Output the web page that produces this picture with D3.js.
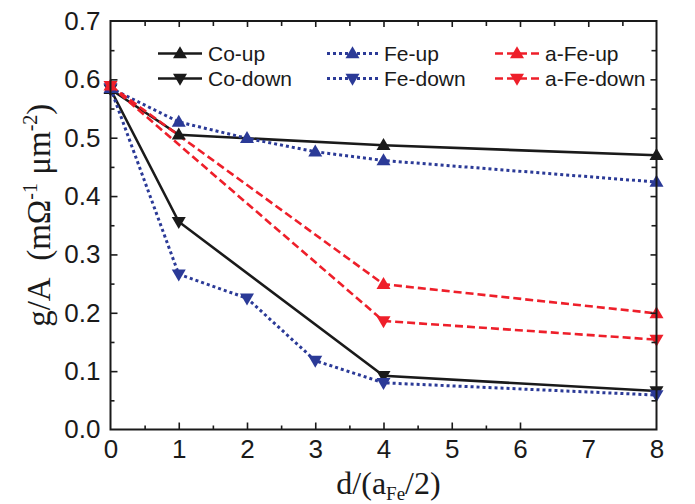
<!DOCTYPE html>
<html><head><meta charset="utf-8">
<script src="https://cdn.jsdelivr.net/npm/d3@7"></script>
<style>
html,body{margin:0;padding:0;background:#fff;}
svg{display:block;}
</style></head>
<body>
<svg id="chart" width="695" height="504"></svg>
<script>
// ---- data ----
const xTickLabels = [0,1,2,3,4,5,6,7,8];
const yTickLabels = [0.0,0.1,0.2,0.3,0.4,0.5,0.6,0.7];

const coX = [0,1,4,8];
const coUp = [0.583,0.505,0.487,0.470];
const coDown = [0.583,0.356,0.092,0.066];

const feX = [0,1,2,3,4,8];
const feUp = [0.585,0.527,0.499,0.476,0.461,0.424];
const feDown = [0.585,0.266,0.225,0.118,0.080,0.059];

const aFeX = [0,4,8];
const aFeUp = [0.589,0.249,0.199];
const aFeDown = [0.589,0.186,0.154];

const seriesNames = ["Co-up","Co-down","Fe-up","Fe-down","a-Fe-up","a-Fe-down"];

// ---- styles ----
const BLACK = "#1a1a1a", BLUE = "#2b3a97", RED = "#ee1f2a";
const styles = {
  "Co":  {color: BLACK, dash: null, width: 2.6},
  "Fe":  {color: BLUE, dash: "3,3", width: 3},
  "aFe": {color: RED, dash: "8,4", width: 2.6}
};
const series = [
  {name: seriesNames[0], xs: coX, ys: coUp, st: "Co", dir: "up"},
  {name: seriesNames[1], xs: coX, ys: coDown, st: "Co", dir: "down"},
  {name: seriesNames[2], xs: feX, ys: feUp, st: "Fe", dir: "up"},
  {name: seriesNames[3], xs: feX, ys: feDown, st: "Fe", dir: "down"},
  {name: seriesNames[4], xs: aFeX, ys: aFeUp, st: "aFe", dir: "up"},
  {name: seriesNames[5], xs: aFeX, ys: aFeDown, st: "aFe", dir: "down"}
];

const svg = d3.select("#chart");
const L = 110.5, R = 656.5, T = 21, B = 429.5;
const x = d3.scaleLinear().domain([0,8]).range([L,R]);
const y = d3.scaleLinear().domain([0,0.7]).range([B,T]);

const SANS = "'Liberation Sans', Arial, sans-serif";
const SERIF = "'Liberation Serif', 'Times New Roman', serif";

function tri(dir){
  const w = 7, h = 12;
  return dir === "up"
    ? `M0,${-h*0.6}L${w},${h*0.4}L${-w},${h*0.4}Z`
    : `M0,${h*0.6}L${w},${-h*0.4}L${-w},${-h*0.4}Z`;
}

// ---- series ----
const line = d3.line().x(d=>x(d[0])).y(d=>y(d[1]));
const plot = svg.append("g");
series.forEach(s=>{
  const st = styles[s.st];
  const pts = s.xs.map((v,i)=>[v,s.ys[i]]);
  plot.append("path").attr("d", line(pts)).attr("fill","none")
    .attr("stroke", st.color).attr("stroke-width", st.width)
    .attr("stroke-dasharray", st.dash);
});
series.forEach(s=>{
  const st = styles[s.st];
  s.xs.forEach((v,i)=>{
    plot.append("path").attr("d", tri(s.dir))
      .attr("transform", `translate(${x(v)},${y(s.ys[i])})`)
      .attr("fill", st.color);
  });
});

// ---- axes ----
const axStroke = "#1a1a1a";
function styleAxis(g, fs){
  g.select(".domain").remove();
  g.selectAll(".tick line").attr("stroke", axStroke).attr("stroke-width", 1.6);
  g.selectAll("text").attr("font-family", SANS).attr("font-size", fs).attr("fill", "#1a1a1a");
}
// bottom labels
const xb = svg.append("g").attr("transform", `translate(0,${B})`)
  .call(d3.axisBottom(x).tickValues(xTickLabels).tickSize(0).tickPadding(10).tickFormat(d3.format("d")));
styleAxis(xb, 26);
xb.selectAll("text").attr("dy", "0.71em").attr("y", 10);
// bottom tick marks (inward)
const xbMajor = svg.append("g").attr("transform", `translate(0,${B})`)
  .call(d3.axisBottom(x).tickValues([1,2,3,4,5,6]).tickSize(-7).tickFormat(""));
styleAxis(xbMajor, 0);
const xbMinor = svg.append("g").attr("transform", `translate(0,${B})`)
  .call(d3.axisBottom(x).tickValues([0.5,1.5,2.5,3.5,4.5,5.5]).tickSize(-4).tickFormat(""));
styleAxis(xbMinor, 0);
// top ticks
const xtMajor = svg.append("g").attr("transform", `translate(0,${T})`)
  .call(d3.axisTop(x).tickValues([1,2,3,4,5,6,7]).tickSize(-6).tickFormat(""));
styleAxis(xtMajor, 0);
const xtMinor = svg.append("g").attr("transform", `translate(0,${T})`)
  .call(d3.axisTop(x).tickValues([0.5,1.5,2.5,3.5,4.5,5.5,6.5,7.5]).tickSize(-5).tickFormat(""));
styleAxis(xtMinor, 0);
// left
const yl = svg.append("g").attr("transform", `translate(${L},0)`)
  .call(d3.axisLeft(y).tickValues(yTickLabels).tickSize(0).tickPadding(10).tickFormat(d3.format(".1f")));
styleAxis(yl, 26);
const ylMajor = svg.append("g").attr("transform", `translate(${L},0)`)
  .call(d3.axisLeft(y).tickValues([0.1,0.2,0.3,0.4,0.5,0.6]).tickSize(-7).tickFormat(""));
styleAxis(ylMajor, 0);
const ylMinor = svg.append("g").attr("transform", `translate(${L},0)`)
  .call(d3.axisLeft(y).tickValues([0.05,0.15,0.25,0.35,0.45,0.55,0.65]).tickSize(-4).tickFormat(""));
styleAxis(ylMinor, 0);
// right
const yrMajor = svg.append("g").attr("transform", `translate(${R},0)`)
  .call(d3.axisRight(y).tickValues([0.1,0.2,0.3,0.4,0.5,0.6]).tickSize(-6).tickFormat(""));
styleAxis(yrMajor, 0);
const yrMinor = svg.append("g").attr("transform", `translate(${R},0)`)
  .call(d3.axisRight(y).tickValues([0.05,0.15,0.25,0.35,0.45,0.55,0.65]).tickSize(-5).tickFormat(""));
styleAxis(yrMinor, 0);

// frame
svg.append("rect").attr("x", L).attr("y", T).attr("width", R-L).attr("height", B-T)
  .attr("fill","none").attr("stroke", axStroke).attr("stroke-width", 2);

// ---- axis titles ----
const xt = svg.append("text").attr("x", (L+R)/2 + 5).attr("y", 494)
  .attr("text-anchor","middle").attr("font-family", SERIF).attr("font-size", 32).attr("fill","#1a1a1a");
xt.append("tspan").text("d/(a");
xt.append("tspan").attr("font-size", 19).attr("dy", 6).text("Fe");
xt.append("tspan").attr("dy", -6).text("/2)");

const yt = svg.append("text").attr("transform", `translate(50,${(T+B)/2 - 10}) rotate(-90)`)
  .attr("text-anchor","middle").attr("font-family", SERIF).attr("font-size", 33).attr("fill","#1a1a1a");
yt.append("tspan").text("g/A\u00a0\u00a0(m\u03a9");
yt.append("tspan").attr("font-size", 20).attr("dy", -13).text("-1");
yt.append("tspan").attr("dy", 13).text("\u00a0\u03bcm");
yt.append("tspan").attr("font-size", 20).attr("dy", -13).text("-2");
yt.append("tspan").attr("dy", 13).text(")");

// ---- legend ----
const legCols = [{x0:158, x1:202}, {x0:327, x1:378}, {x0:495, x1:539}];
const legRows = [53.5, 78.5];
const leg = svg.append("g");
series.forEach((s,i)=>{
  const col = legCols[Math.floor(i/2)], ry = legRows[i%2];
  const st = styles[s.st];
  leg.append("line").attr("x1", col.x0).attr("x2", col.x1).attr("y1", ry).attr("y2", ry)
    .attr("stroke", st.color).attr("stroke-width", st.width).attr("stroke-dasharray", st.dash);
  leg.append("path").attr("d", tri(s.dir))
    .attr("transform", `translate(${(col.x0+col.x1)/2},${ry})`).attr("fill", st.color);
  leg.append("text").attr("x", col.x1 + 6).attr("y", ry + 7.5)
    .attr("font-family", SANS).attr("font-size", 21).attr("fill", "#1a1a1a").text(s.name);
});
</script>
</body></html>
